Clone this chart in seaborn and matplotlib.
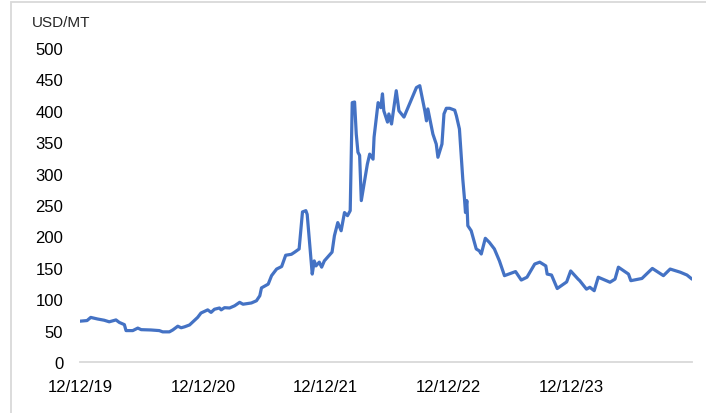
import numpy as np, pandas as pd
from matplotlib import pyplot as plt
from matplotlib import dates as mdates
from matplotlib.patches import Rectangle
import seaborn as sns

# Price series (USD/MT)
dates = [
    "2019-12-12", "2020-01-02", "2020-01-13", "2020-02-02", "2020-02-22",
    "2020-03-08", "2020-03-28", "2020-04-07", "2020-04-22", "2020-04-27",
    "2020-05-17", "2020-06-01", "2020-06-11", "2020-07-10", "2020-08-04",
    "2020-08-14", "2020-09-03", "2020-09-13", "2020-09-28", "2020-10-08",
    "2020-10-18", "2020-11-02", "2020-11-26", "2020-12-06", "2020-12-26",
    "2021-01-05", "2021-01-15", "2021-01-30", "2021-02-04", "2021-02-14",
    "2021-03-01", "2021-03-16", "2021-03-31", "2021-04-10", "2021-05-05",
    "2021-05-20", "2021-05-30", "2021-06-04", "2021-06-24", "2021-07-04",
    "2021-07-19", "2021-08-03", "2021-08-15", "2021-09-01", "2021-09-11",
    "2021-09-24", "2021-10-04", "2021-10-14", "2021-10-18", "2021-11-02",
    "2021-11-08", "2021-11-13", "2021-11-23", "2021-11-30", "2021-12-08",
    "2021-12-31", "2022-01-07", "2022-01-17", "2022-01-27", "2022-02-06",
    "2022-02-15", "2022-02-23", "2022-03-01", "2022-03-08", "2022-03-13",
    "2022-03-18", "2022-03-23", "2022-03-28", "2022-04-07", "2022-04-15",
    "2022-04-22", "2022-05-02", "2022-05-05", "2022-05-17", "2022-05-25",
    "2022-05-30", "2022-06-03", "2022-06-14", "2022-06-18", "2022-06-26",
    "2022-07-10", "2022-07-18", "2022-08-02", "2022-09-08", "2022-09-18",
    "2022-10-03", "2022-10-08", "2022-10-12", "2022-10-27", "2022-11-06",
    "2022-11-11", "2022-11-23", "2022-11-29", "2022-12-06", "2022-12-16",
    "2022-12-31", "2023-01-05", "2023-01-14", "2023-01-24", "2023-01-29",
    "2023-02-01", "2023-02-05", "2023-02-08", "2023-02-18", "2023-03-05",
    "2023-03-14", "2023-03-20", "2023-04-01", "2023-04-13", "2023-04-28",
    "2023-05-13", "2023-05-28", "2023-06-30", "2023-07-17", "2023-08-03",
    "2023-08-26", "2023-09-10", "2023-09-28", "2023-10-02", "2023-10-15",
    "2023-11-01", "2023-11-29", "2023-12-11", "2024-01-02", "2024-01-07",
    "2024-01-27", "2024-02-06", "2024-02-19", "2024-03-02", "2024-04-06",
    "2024-04-21", "2024-05-01", "2024-05-31", "2024-06-07", "2024-07-10",
    "2024-08-10", "2024-09-12", "2024-10-02", "2024-11-01", "2024-11-21",
    "2024-12-06",
]
price = [
    65, 66, 71, 68.5, 66.5,
    64, 67, 63, 59.5, 50,
    50, 54, 51.5, 51, 50,
    48, 48, 51, 57, 54.5,
    56, 59, 71, 78, 83,
    79, 84, 86, 83, 86.5,
    86, 89.5, 95, 92, 94,
    97.5, 105.5, 118, 124, 137.5,
    148, 152, 170, 171.5, 175,
    180, 239, 241, 235, 140,
    161, 153, 159, 151, 161,
    175, 201, 222, 209, 238,
    233, 241, 413, 414, 363,
    334, 329, 257, 289, 315,
    331, 323, 358, 413, 405,
    427, 400, 382, 395, 379,
    432, 400, 390, 437, 440,
    400, 384, 403, 363, 347,
    326, 347, 395, 404, 404,
    401, 392, 371, 291, 260,
    238, 257, 217, 209, 180,
    177, 172, 197, 190.5, 180,
    161, 137.5, 144, 130.5, 135,
    156, 159, 153, 140, 138.5,
    117, 127.5, 145, 132, 129.5,
    116, 119, 113.5, 135, 127,
    132, 151, 140, 129.5, 133,
    149, 137.5, 148, 143, 138.5,
    132,
]
tick_dates = ["2019-12-12", "2020-12-12", "2021-12-12", "2022-12-12", "2023-12-12"]
tick_labels = ["12/12/19", "12/12/20", "12/12/21", "12/12/22", "12/12/23"]
y_ticks = list(range(0, 501, 50))

df = pd.DataFrame({"date": pd.to_datetime(dates), "price": price})

sns.set_style("white")
plt.rcParams["font.family"] = ["Liberation Sans", "DejaVu Sans"]

W, H = 706, 414
fig = plt.figure(figsize=(W / 100, H / 100), dpi=100)
ax = fig.add_axes([80 / W, 1 - 363 / H, (692 - 80) / W, (363 - 49) / H])

sns.lineplot(data=df, x="date", y="price", color="#4472C4", linewidth=2.3, ax=ax)

ax.set_xlim(df["date"].iloc[0], df["date"].iloc[-1])
ax.set_ylim(0, 500)
ax.set_yticks(y_ticks)
ax.set_yticklabels([str(v) for v in y_ticks])
ax.set_xticks(pd.to_datetime(tick_dates))
ax.set_xticklabels(tick_labels)
ax.set_xlabel("")
ax.set_ylabel("")

for s in ["top", "right", "left"]:
    ax.spines[s].set_visible(False)
ax.spines["bottom"].set_color("#d9d9d9")
ax.spines["bottom"].set_linewidth(1.3)
ax.spines["bottom"].set_zorder(0)

ax.tick_params(axis="both", length=0, labelsize=12, colors="#000000")
ax.tick_params(axis="y", pad=12)
ax.tick_params(axis="x", pad=12)

fig.text(32 / W, 1 - 23 / H, "USD/MT", fontsize=11, va="center", ha="left")

# light grey chart border (partly clipped by the image edge)
fig.patches.append(Rectangle((11 / W, -0.05), 1.0, 1 - 3 / H + 0.05,
                             transform=fig.transFigure, fill=False,
                             edgecolor="#d9d9d9", linewidth=1.3))

plt.savefig("out.png", dpi=100)
